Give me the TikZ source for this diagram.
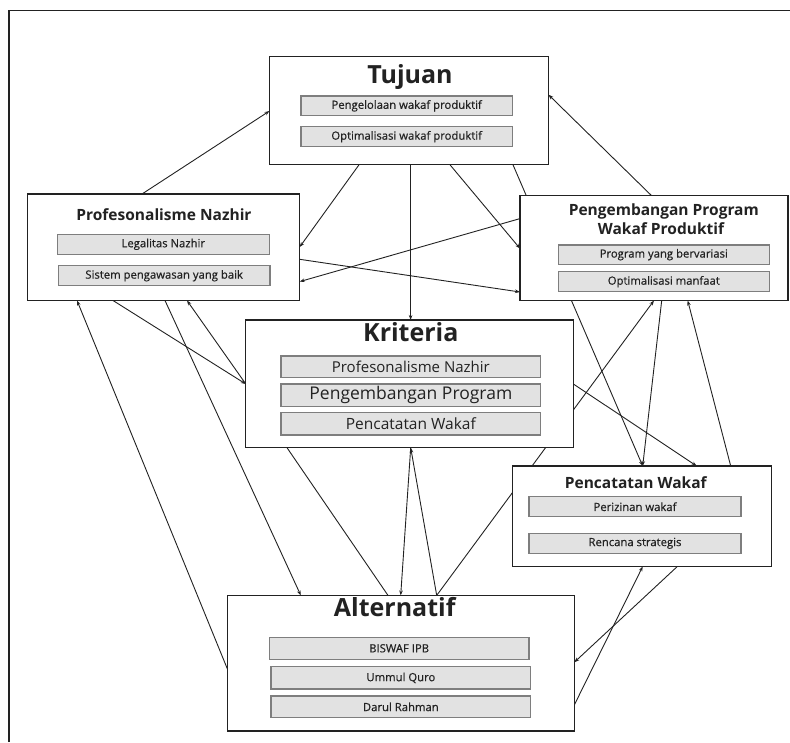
\documentclass[tikz,border=0pt]{standalone}
\usepackage{fontspec}
\setmainfont{Open Sans}
\newfontfamily\subfnt[FakeBold=0.6]{Open Sans}
\usetikzlibrary{arrows.meta,calc}
\pgfdeclarelayer{bg}
\pgfsetlayers{bg,main}
\definecolor{ink}{HTML}{222222}
\definecolor{subfill}{HTML}{E2E2E2}
\definecolor{subline}{HTML}{7E7E7E}
\tikzset{
  mainbox/.style={draw=ink, line width=1.3pt, fill=white, rectangle, inner sep=0pt, outer sep=0pt, anchor=north west},
  subbox/.style={draw=subline, line width=1.4pt, fill=subfill, rectangle, inner sep=0pt, outer sep=0pt, anchor=north west, text=ink, font=\subfnt\fontsize{11.3}{12}\selectfont},
  bigtitle/.style={anchor=base, inner sep=0pt, text=ink, font=\bfseries\fontsize{25}{28}\selectfont},
  midtitle/.style={anchor=base, inner sep=0pt, text=ink, font=\bfseries\fontsize{15.5}{18}\selectfont},
  conn/.style={draw=ink, line width=0.9pt},
  arr/.style={conn, -{Stealth[length=5pt,width=3.6pt]}},
  frameline/.style={draw=ink, line width=1.4pt}
}
\begin{document}
\begin{tikzpicture}[x=1pt,y=-1pt]
\useasboundingbox (0,0) rectangle (790,742);
\draw[frameline] (9,742) -- (9,10.4) -- (790,10.4);

% ---- main boxes
\node[mainbox, minimum width=279pt, minimum height=108pt] (tuj) at (269.5,56.8) {};
\node[mainbox, minimum width=272pt, minimum height=106.5pt] (prof) at (27.7,194) {};
\node[mainbox, minimum width=268pt, minimum height=105pt] (peng) at (520,195.5) {};
\node[mainbox, minimum width=328pt, minimum height=127.7pt] (krit) at (245.8,320) {};
\node[mainbox, minimum width=259pt, minimum height=100.5pt] (penc) at (512.8,466) {};
\node[mainbox, minimum width=346.6pt, minimum height=135.6pt] (alt) at (227.7,595.4) {};

% ---- titles
\node[bigtitle] (tujT) at (410,83.3) {Tujuan};
\node[midtitle] (profT) at (164,220.7) {Profesonalisme Nazhir};
\node[midtitle] (pengT1) at (663.8,215) {Pengembangan Program};
\node[midtitle] (pengT2) at (661,234.3) {Wakaf Produktif};
\node[bigtitle] (kritT) at (410.8,341) {Kriteria};
\node[midtitle] (pencT) at (635.8,488.3) {Pencatatan Wakaf};
\node[bigtitle] (altT) at (394.7,616.7) {Alternatif};

% ---- sub boxes
\node[subbox, minimum width=211.3pt, minimum height=19.7pt] (tuj1) at (301,96) {Pengelolaan wakaf produktif};
\node[subbox, minimum width=211.3pt, minimum height=20pt] (tuj2) at (301,126.7) {Optimalisasi wakaf produktif};

\node[subbox, minimum width=212pt, minimum height=20pt] (prof1) at (57.3,234.3) {Legalitas Nazhir};
\node[subbox, minimum width=211.7pt, minimum height=20pt] (prof2) at (58.3,265.7) {Sistem pengawasan yang baik};

\node[subbox, minimum width=211pt, minimum height=19.3pt] (peng1) at (558.3,245) {Program yang bervariasi};
\node[subbox, minimum width=211pt, minimum height=20pt] (peng2) at (558.3,271.7) {Optimalisasi manfaat};

\node[subbox, minimum width=259.7pt, minimum height=21.7pt, font=\rmfamily\fontsize{15}{16}\selectfont] (krit1) at (281,356) {Profesonalisme Nazhir};
\node[subbox, minimum width=259.7pt, minimum height=22.7pt, font=\rmfamily\fontsize{17.5}{18}\selectfont] (krit2) at (281,384) {Pengembangan Program};
\node[subbox, minimum width=259.7pt, minimum height=22.3pt, font=\rmfamily\fontsize{15.5}{16}\selectfont] (krit3) at (281,412.7) {Pencatatan Wakaf};

\node[subbox, minimum width=212pt, minimum height=20pt] (penc1) at (529,496.7) {Perizinan wakaf};
\node[subbox, minimum width=212pt, minimum height=20pt] (penc2) at (529,533.3) {Rencana strategis};

\node[subbox, minimum width=259.7pt, minimum height=22pt] (alt1) at (269.3,637.3) {BISWAF IPB};
\node[subbox, minimum width=259.7pt, minimum height=22.3pt] (alt2) at (271,666.7) {Ummul Quro};
\node[subbox, minimum width=259.7pt, minimum height=21.7pt] (alt3) at (271,696) {Darul Rahman};

% ---- connectors (behind the boxes)
\begin{pgfonlayer}{bg}
\draw[arr] ($(prof.north west)+(114.3,0)$) -- ($(tuj.north west)+(0,54.2)$);
\draw[arr] ($(peng.north west)+(131.4,0)$) -- ($(tuj.north west)+(279,37.9)$);
\draw[arr] ($(tuj.north west)+(89.5,108)$) -- ($(prof.north west)+(272,53)$);
\draw[arr] ($(tuj.north west)+(141.1,108)$) -- ($(krit.north west)+(164.8,0)$);
\draw[arr] ($(tuj.north west)+(180.5,108)$) -- ($(peng.north west)+(0,53)$);
\draw[arr] ($(tuj.north west)+(243.5,108)$) -- ($(penc.north west)+(129.9,0)$);
\draw[arr] ($(peng.north west)+(0,23.1)$) -- ($(prof.north west)+(272,87.6)$);
\draw[arr] ($(prof.north west)+(272,65.3)$) -- ($(peng.north west)+(0,96.5)$);
\draw[arr] ($(prof.north west)+(85.3,106.5)$) -- ($(krit.north west)+(0,64)$);
\draw[arr] ($(krit.north west)+(0,64)$) -- ($(prof.north west)+(159.3,106.5)$);
\draw[arr] ($(prof.north west)+(137.3,106.5)$) -- ($(alt.north west)+(73.1,0)$);
\draw[arr] ($(alt.north west)+(0,74.3)$) -- ($(prof.north west)+(49.3,106.5)$);
\draw[conn] ($(krit.north west)+(41.2,127.7)$) -- ($(alt.north west)+(160.3,0)$);
\draw[arr] ($(krit.north west)+(164.9,127.7)$) -- ($(alt.north west)+(173,0)$);
\draw[arr] ($(alt.north west)+(209,0)$) -- ($(krit.north west)+(164.9,127.7)$);
\draw[arr] ($(alt.north west)+(209,0)$) -- ($(peng.north west)+(134,105)$);
\draw[arr] ($(peng.north west)+(141.7,105)$) -- ($(penc.north west)+(129.9,0)$);
\draw[arr] ($(penc.north west)+(217.9,0)$) -- ($(peng.north west)+(167.7,105)$);
\draw[arr] ($(krit.north west)+(328,64.3)$) -- ($(penc.north west)+(183.9,0)$);
\draw[arr] ($(penc.north west)+(164.5,100.5)$) -- ($(alt.north west)+(346.6,66.9)$);
\draw[arr] ($(alt.north west)+(346.6,109.6)$) -- ($(penc.north west)+(129.9,100.5)$);
\end{pgfonlayer}
\end{tikzpicture}
\end{document}
